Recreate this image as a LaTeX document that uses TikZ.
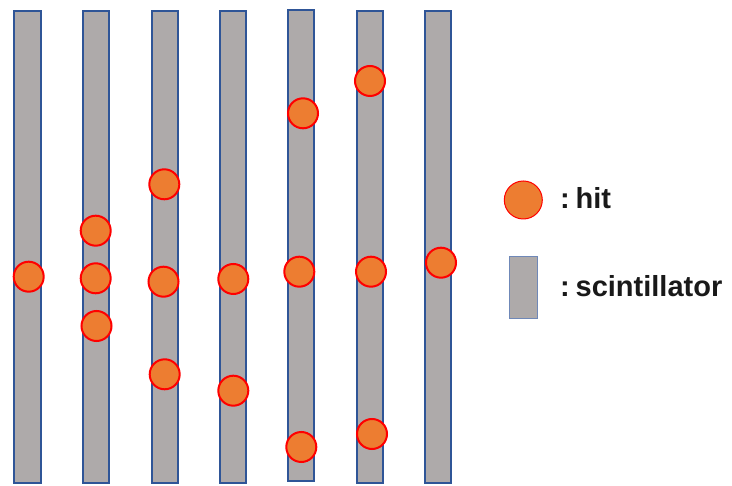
\documentclass[tikz,border=0pt]{standalone}
\usepackage{fontspec}
\setmainfont{Liberation Sans}
\definecolor{barblue}{HTML}{2F5597}
\definecolor{bargray}{HTML}{AEAAAA}
\definecolor{hitorange}{HTML}{ED7D31}
\definecolor{legblue}{HTML}{6F88B8}
\begin{document}
\begin{tikzpicture}[x=1pt,y=-1pt,
  bar/.style={draw=barblue, fill=bargray, line width=2pt, minimum width=26.5pt, inner sep=0pt},
  hit/.style={circle, draw=red, fill=hitorange, line width=2pt, minimum size=30pt, inner sep=0pt},
  legtext/.style={anchor=base west, inner sep=0pt, font=\fontsize{29}{29}\selectfont\bfseries}]
\useasboundingbox (0,0) rectangle (732,486);
% scintillator bars
\node[bar, minimum height=471.5pt] (b1) at (27.7,247) {};
\node[bar, minimum height=471.5pt] (b2) at (95.8,247) {};
\node[bar, minimum height=471.5pt] (b3) at (164.8,247) {};
\node[bar, minimum height=471.5pt] (b4) at (233,247) {};
\node[bar, minimum height=470.5pt] (b5) at (301,245.4) {};
\node[bar, minimum height=471.5pt] (b6) at (369.8,247) {};
\node[bar, minimum height=471.5pt] (b7) at (438.2,247) {};
% hits
\node[hit] (h11) at (28.7,276.7) {};
\node[hit] (h21) at (95.7,230.7) {};
\node[hit] (h22) at (95.7,278.3) {};
\node[hit] (h23) at (96.5,326) {};
\node[hit] (h31) at (164.3,184.3) {};
\node[hit] (h32) at (163.5,281.7) {};
\node[hit] (h33) at (164.7,374.3) {};
\node[hit] (h41) at (233.3,279) {};
\node[hit] (h42) at (233.3,390.7) {};
\node[hit] (h51) at (303,113.3) {};
\node[hit] (h52) at (299.3,271.7) {};
\node[hit] (h53) at (301.3,447) {};
\node[hit] (h61) at (370,81) {};
\node[hit] (h62) at (371,271.7) {};
\node[hit] (h63) at (372,434) {};
\node[hit] (h71) at (441,262.7) {};
% legend
\node[circle, draw=red, fill=hitorange, line width=1pt, minimum size=38pt, inner sep=0pt] (lh) at (523.3,200) {};
\node[draw=legblue, fill=bargray, line width=1pt, minimum width=28pt, minimum height=62pt, inner sep=0pt] (lb) at (523.7,288) {};
\node[legtext, text=black!90] (th) at (560,208.7) {:\hspace{0.2em}hit};
\node[legtext, text=black!90] (ts) at (560,296.7) {:\hspace{0.2em}scintillator};
\end{tikzpicture}
\end{document}
